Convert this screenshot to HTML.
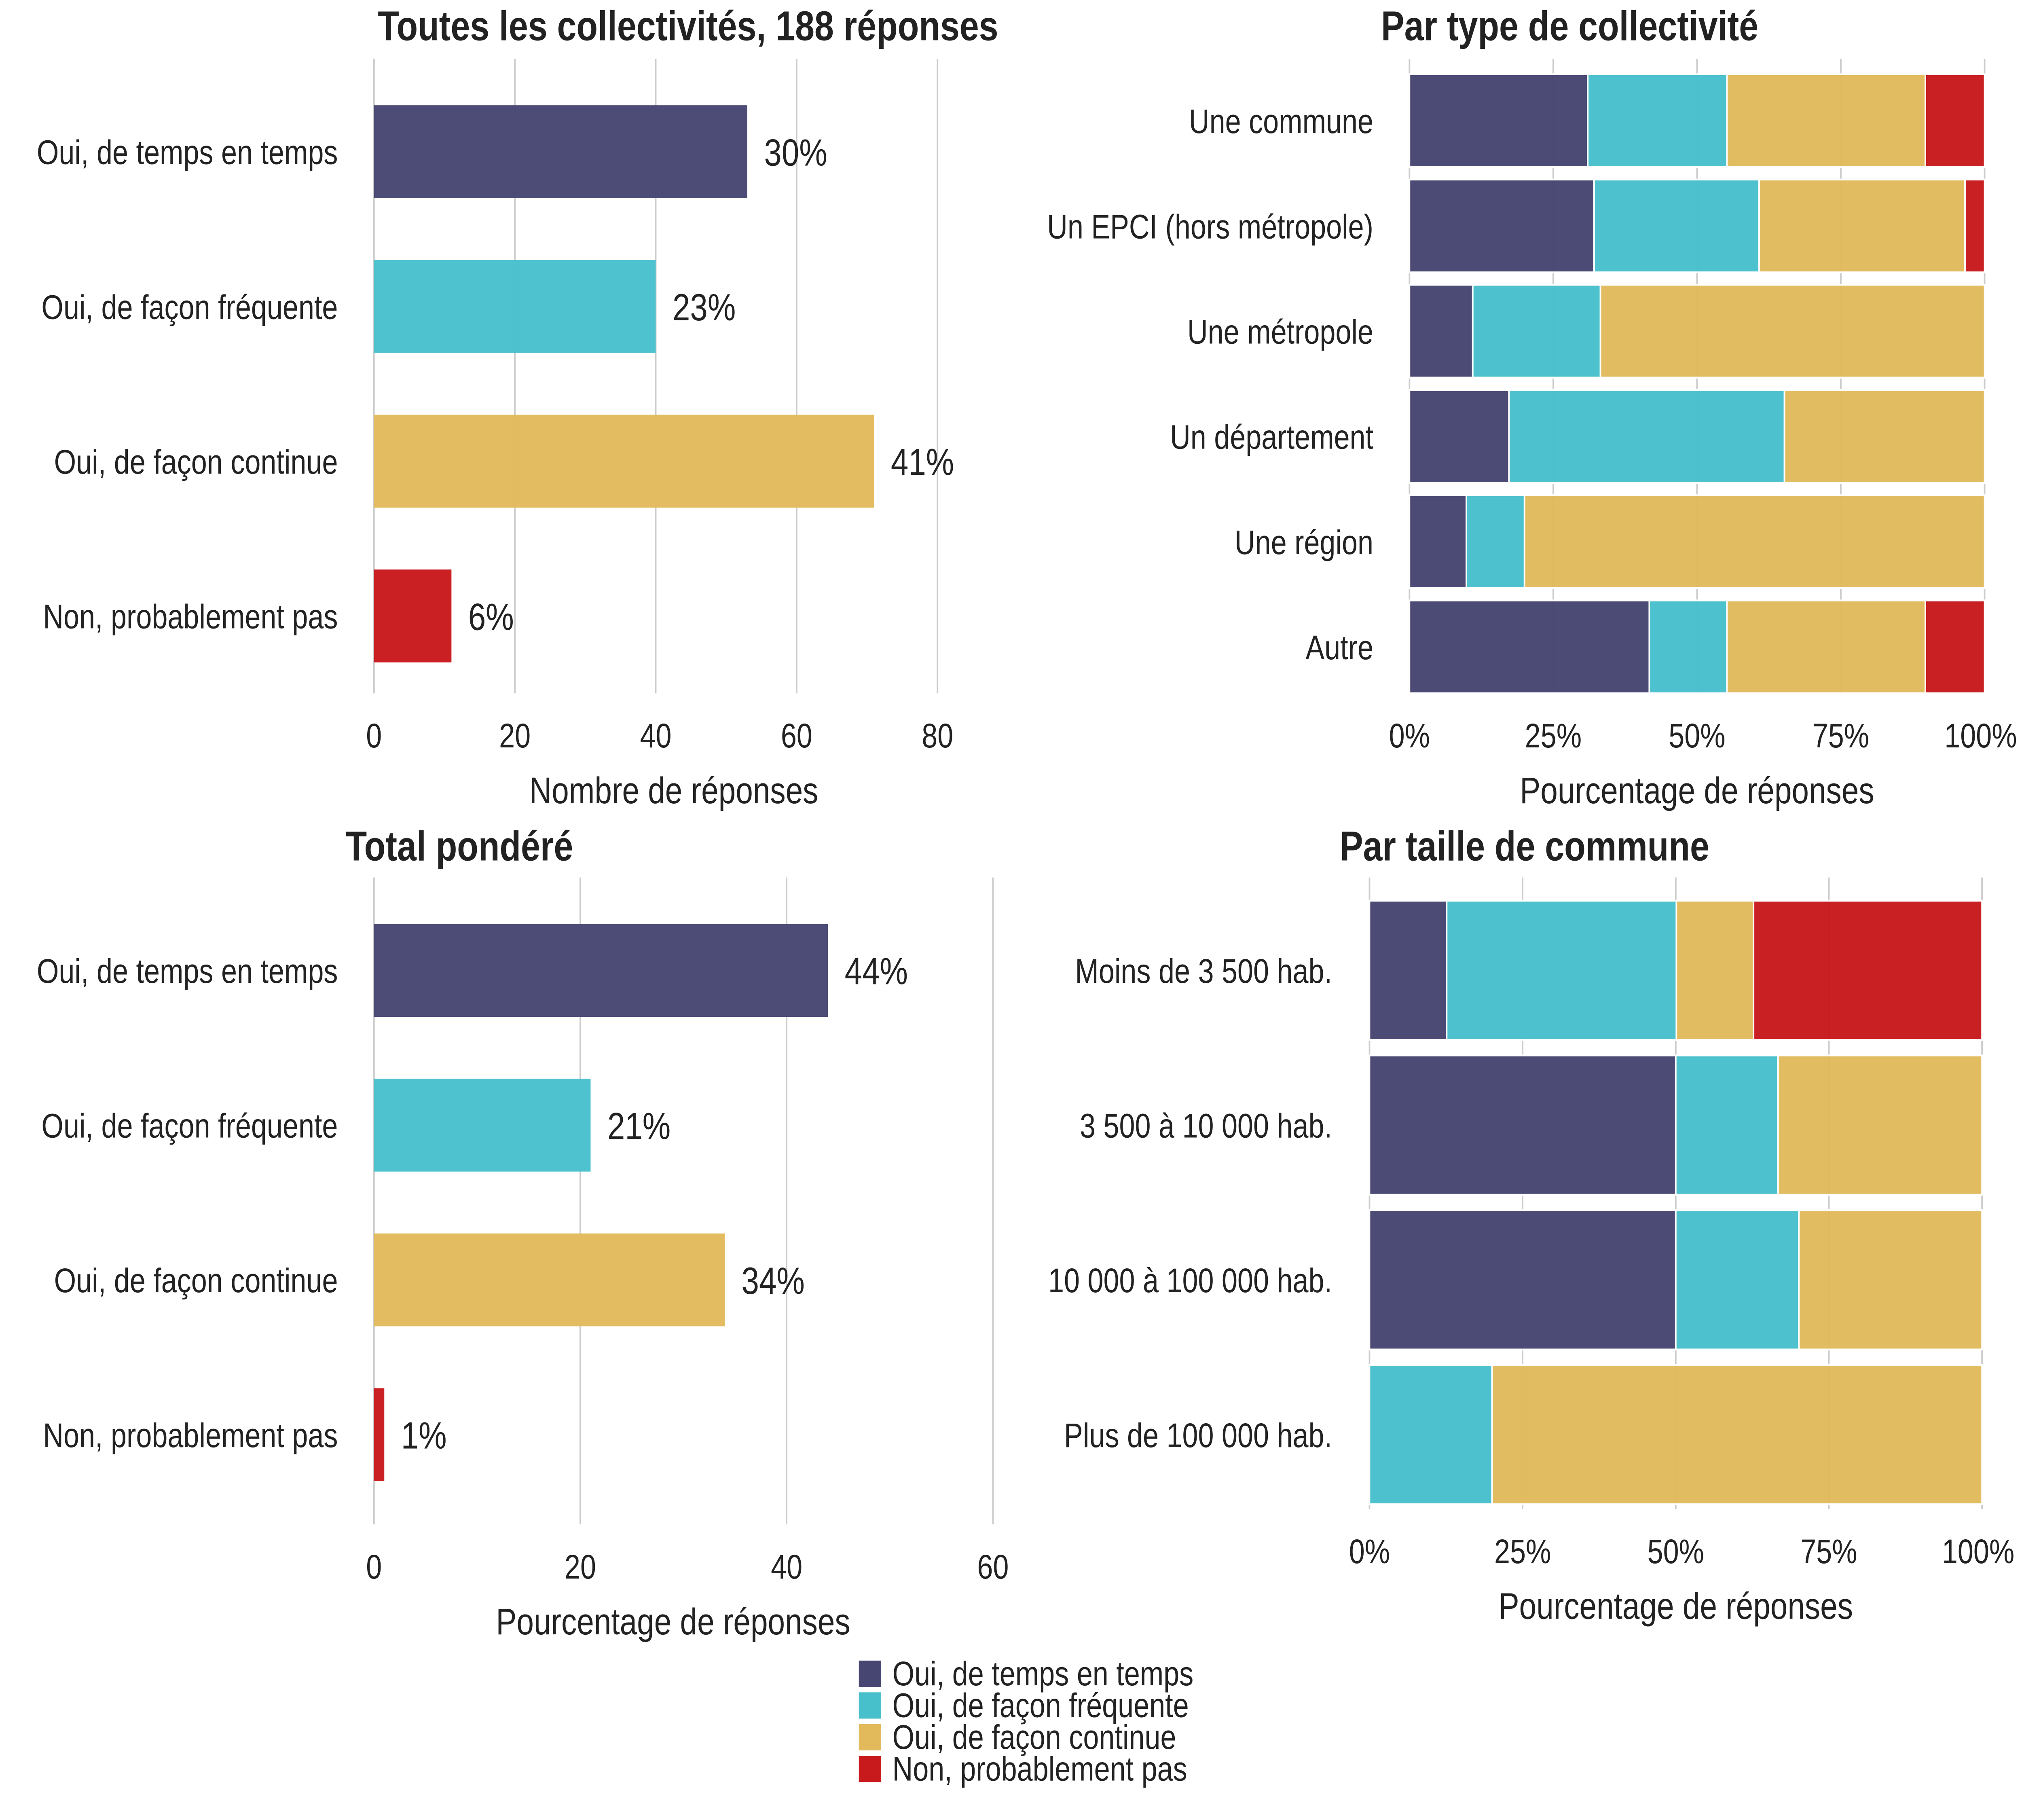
<!DOCTYPE html>
<html><head><meta charset="utf-8"><style>
html,body{margin:0;padding:0;background:#fff;width:100%;height:100%;overflow:hidden}
svg{display:block;width:100vw;height:100vh;position:absolute;left:0;top:0}
text{font-family:"Liberation Sans",sans-serif;fill:#222}
</style></head><body>
<svg id="c" viewBox="0 0 1568 1176" preserveAspectRatio="none" xmlns="http://www.w3.org/2000/svg"></svg>
<script>
const colors=['#474672','#48c0cc','#e2ba5c','#c8191c'];
const answers=['Oui, de temps en temps','Oui, de façon fréquente','Oui, de façon continue','Non, probablement pas'];
const countsAll=[53,40,71,11];
const pctAll=['30%','23%','41%','6%'];
const ticksAll=[0,20,40,60,80];
const weighted=[44,21,34,1];
const pctWeighted=['44%','21%','34%','1%'];
const ticksWeighted=[0,20,40,60];
const typeCats=['Une commune','Un EPCI (hors métropole)','Une métropole','Un département','Une région','Autre'];
const typeTempsEnTemps=[31,32.1,11,17.3,9.9,41.7];
const typeFrequente=[24.2,28.7,22.2,47.9,10.1,13.5];
const typeContinue=[34.5,35.8,66.8,34.8,80,34.5];
const typeNon=[10.3,3.4,0,0,0,10.3];
const sizeCats=['Moins de 3 500 hab.','3 500 à 10 000 hab.','10 000 à 100 000 hab.','Plus de 100 000 hab.'];
const sizeTempsEnTemps=[12.6,50,50,0];
const sizeFrequente=[37.5,16.7,20.1,20];
const sizeContinue=[12.6,33.3,29.9,80];
const sizeNon=[37.3,0,0,0];
const pctTicks=['0%','25%','50%','75%','100%'];

const svg=document.getElementById('c');
const NS='http://www.w3.org/2000/svg';
function el(tag,attrs,txt){const e=document.createElementNS(NS,tag);for(const k in attrs)e.setAttribute(k,attrs[k]);if(txt!==undefined)e.textContent=txt;svg.appendChild(e);return e;}
function txt(x,y,s,anchor,size,weight,name){const t=el('text',{x:x,y:y,'text-anchor':anchor,'font-size':size,'font-weight':weight||'normal'},s);

return t;}

function barPanel(o){
  const sx=v=>o.x0+(v-o.ticks[0])/(o.ticks[o.ticks.length-1]-o.ticks[0])*(o.x1-o.x0);
  o.ticks.forEach(t=>{const g=el('line',{x1:sx(t),x2:sx(t),y1:o.gy0,y2:o.gy1,stroke:'#cccccc','stroke-width':1.2});
    
    
    txt(sx(t),o.gy1+35,String(t),'middle',22,'normal','x-tick-label');});
  o.vals.forEach((v,i)=>{const y=o.top+i*100;
    const r=el('rect',{x:sx(0),y:y,width:sx(v)-sx(0),height:60,fill:colors[i],opacity:0.97});
    
    
    txt(sx(v)+13,y+39,o.labels[i],'start',24.5,'normal','bar-value-label');
    txt(262,y+38,answers[i],'end',22,'normal','y-tick-label');});
  txt((o.x0+o.x1)/2+(o.xtOff||0),o.gy1+71,o.xtitle,'middle',24,'normal','x-axis-title');
  txt(o.tx,o.ty,o.title,'start',27,'bold','panel-title');
}
barPanel({x0:290,x1:727,ticks:ticksAll,vals:countsAll,labels:pctAll,top:68,gy0:38,gy1:448,xtitle:'Nombre de réponses',xtOff:14,title:'Toutes les collectivités, 188 réponses',tx:293,ty:26});
barPanel({x0:290,x1:770,ticks:ticksWeighted,vals:weighted,labels:pctWeighted,top:597,gy0:567,gy1:985,xtitle:'Pourcentage de réponses',xtOff:-8,title:'Total pondéré',tx:268,ty:556});

function stackPanel(o){
  const sx=v=>o.x0+v/100*(o.x1-o.x0);
  [0,25,50,75,100].forEach((t,i)=>{const g=el('line',{x1:sx(t),x2:sx(t),y1:o.gy0,y2:o.gy1,stroke:'#cccccc','stroke-width':1.2});
    
    
    txt(sx(t)+(i==4?-3:0),o.gy1+35,pctTicks[i],'middle',22,'normal','x-tick-label');});
  o.cats.forEach((c,i)=>{const y=o.top+i*o.step;let acc=0;
    o.series.forEach((s,j)=>{const v=s[i];if(v>0){
      const r=el('rect',{x:sx(acc),y:y,width:sx(acc+v)-sx(acc),height:o.h,fill:colors[j],stroke:'#fff','stroke-width':1.2,opacity:0.97});
      
      }
      acc+=v;});
    txt(o.lx,y+o.h/2+8,c,'end',22,'normal','y-tick-label');});
  txt((o.x0+o.x1)/2,o.gy1+71,'Pourcentage de réponses','middle',24,'normal','x-axis-title');
  txt(o.tx,o.ty,o.title,'start',27,'bold','panel-title');
}
stackPanel({x0:1093,x1:1539,cats:typeCats,series:[typeTempsEnTemps,typeFrequente,typeContinue,typeNon],top:48,step:68,h:60,gy0:38,gy1:448,lx:1065,title:'Par type de collectivité',tx:1071,ty:26});
stackPanel({x0:1062,x1:1537,cats:sizeCats,series:[sizeTempsEnTemps,sizeFrequente,sizeContinue,sizeNon],top:582,step:100,h:90,gy0:567,gy1:975,lx:1033,title:'Par taille de commune',tx:1039,ty:556});

answers.forEach((a,i)=>{const y=1073+i*20.5;
  const r=el('rect',{x:666,y:y,width:17,height:17,fill:colors[i]});
  
  
  txt(692,y+16,a,'start',22,'normal','legend-entry');});
</script>
</body></html>
